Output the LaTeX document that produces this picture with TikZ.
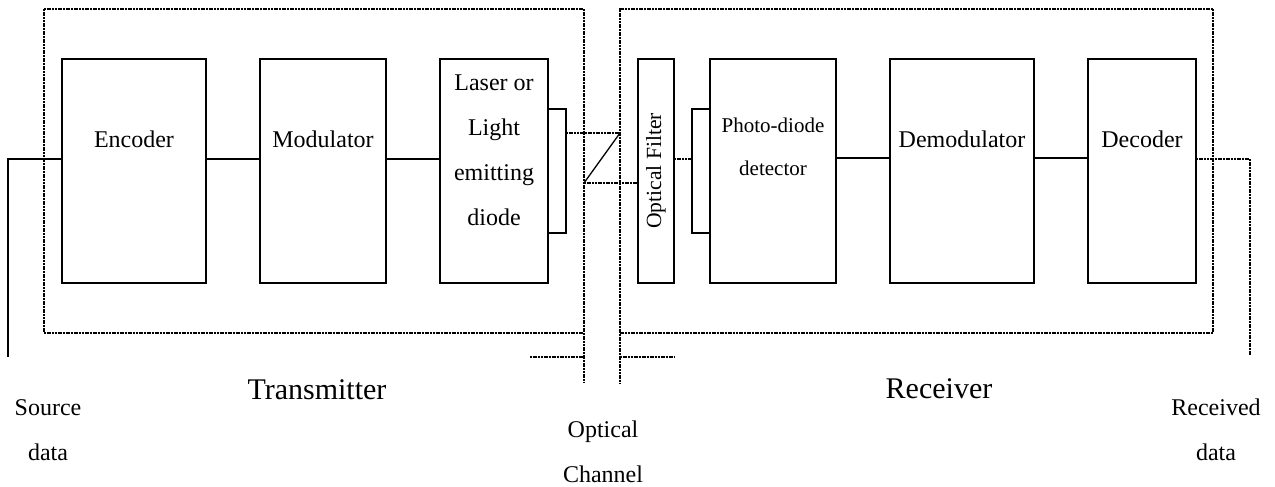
\documentclass[tikz,border=0pt]{standalone}
\usepackage{fontspec}
\setmainfont{Liberation Serif}
\usetikzlibrary{positioning}

\begin{document}
\begin{tikzpicture}[x=0.5pt, y=-0.5pt,
  blk/.style={draw, line width=0.65pt, minimum height=112pt, inner sep=0pt, outer sep=0pt},
  win/.style={draw, line width=0.65pt, minimum width=9pt, minimum height=62pt, inner sep=0pt, outer sep=0pt},
  wire/.style={line width=0.65pt},
  dot/.style={line width=0.75pt, dash pattern=on 1pt off 0.35pt},
  lbl/.style={font=\fontsize{12}{22.5}\selectfont, align=center, inner sep=0pt},
  big/.style={font=\fontsize{15}{18}\selectfont, inner sep=0pt}]
  \useasboundingbox (0,0) rectangle (1275,487);
  % group boxes
  \draw[dot] (44,9) -- (584,9) -- (584,383);
  \draw[dot] (44,9) -- (44,333) -- (584,333);
  \draw[dot] (1213,9) -- (620,9) -- (620,383);
  \draw[dot] (1213,9) -- (1213,333) -- (620,333);
  % optical channel
  \draw[dot] (530,357) -- (584,357);
  \draw[dot] (620,357) -- (675,357);
  % blocks
  \node[blk, minimum width=72pt] (enc) at (134,171) {};
  \node[blk, minimum width=63pt, right=27pt of enc] (mod) {};
  \node[blk, minimum width=54pt, right=27pt of mod] (las) {};
  \node[win, right=0pt of las] (lwin) {};
  \node[blk, minimum width=18pt, right=36pt of lwin] (flt) {};
  \node[win, right=9pt of flt] (pwin) {};
  \node[blk, minimum width=63pt, right=0pt of pwin] (pd) {};
  \node[blk, minimum width=72pt, right=27pt of pd] (dem) {};
  \node[blk, minimum width=54pt, right=27pt of dem] (dec) {};
  % block texts
  \node[lbl] (encT) at ([yshift=-40pt]enc.north) {Encoder};
  \node[lbl] (modT) at ([yshift=-40pt]mod.north) {Modulator};
  \node[lbl] (lasT) at ([yshift=-45.75pt]las.north) {Laser or\\Light\\emitting\\diode};
  \node[lbl, font=\fontsize{10.8}{12}\selectfont, rotate=90] (fltT) at (flt.center) {Optical Filter};
  \node[lbl, font=\fontsize{10.5}{21.5}\selectfont] (pdT) at ([yshift=-43.75pt]pd.north) {Photo-diode\\detector};
  \node[lbl] (demT) at ([yshift=-40pt]dem.north) {Demodulator};
  \node[lbl] (decT) at ([yshift=-40pt]dec.north) {Decoder};
  % outer labels
  \node[big] (txT) at (317,390) {Transmitter};
  \node[big] (rxT) at (939,389) {Receiver};
  \node[lbl] (srcT) at (48,430) {Source\\data};
  \node[lbl] (rcvT) at (1216,430) {Received\\data};
  \node[lbl] (chT) at (603,452) {Optical\\Channel};
  % links
  \coordinate (src) at (8,357);
  \coordinate (rcv) at (1250,355);
  \coordinate (b1) at (620,133);
  \coordinate (b2) at (584,183);
  \draw[wire] ([yshift=6pt]enc.west) -| (src);
  \draw[wire] ([yshift=6pt]enc.east) -- ([yshift=6pt]mod.west);
  \draw[wire] ([yshift=6pt]mod.east) -- ([yshift=6pt]las.west);
  \draw[dot] (lwin.east |- b1) -- (b1);
  \draw[wire] (b1) -- (b2);
  \draw[dot] (b2) -- (b2 -| flt.west);
  \draw[dot] ([yshift=6pt]flt.east) -- ([yshift=6pt]pwin.west);
  \draw[wire] ([yshift=6.5pt]pd.east) -- ([yshift=6.5pt]dem.west);
  \draw[wire] ([yshift=6.5pt]dem.east) -- ([yshift=6.5pt]dec.west);
  \draw[dot] ([yshift=6pt]dec.east) -| (rcv);
\end{tikzpicture}
\end{document}
